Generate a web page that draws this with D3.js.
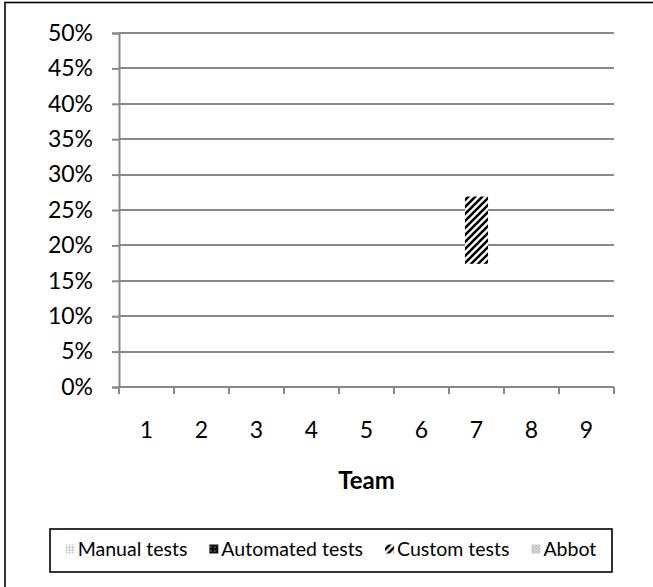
<!DOCTYPE html>
<html>
<head>
<meta charset="utf-8">
<script src="https://cdn.jsdelivr.net/npm/d3@7"></script>
<style>
  html, body { margin: 0; padding: 0; background: #fff; }
  svg { display: block; font-family: Lato, "Open Sans", sans-serif; }
</style>
</head>
<body>
<svg id="chart" width="653" height="587"></svg>
<script>
// Teams on the horizontal axis
const teams = [1, 2, 3, 4, 5, 6, 7, 8, 9];
// Share of tests per team, stacked in this order
const seriesNames = ["Manual tests", "Automated tests", "Custom tests", "Abbot"];
const manualTests    = [0, 0, 0, 0, 0, 0, 0.174, 0, 0];
const automatedTests = [0, 0, 0, 0, 0, 0, 0, 0, 0];
const customTests    = [0, 0, 0, 0, 0, 0, 0.095, 0, 0];
const abbotTests     = [0, 0, 0, 0, 0, 0, 0, 0, 0];
const yTicks = [0, 0.05, 0.10, 0.15, 0.20, 0.25, 0.30, 0.35, 0.40, 0.45, 0.50];
const xTitle = "Team";

const svg = d3.select("#chart");
const plot = { left: 119, right: 614, top: 33, bottom: 387 };
const grid = "#888888";
const axisFont = 23;

// Fill patterns for each series
const defs = svg.append("defs");
const pManual = defs.append("pattern").attr("id", "p-manual")
  .attr("patternUnits", "userSpaceOnUse").attr("width", 3).attr("height", 3);
pManual.append("rect").attr("width", 3).attr("height", 3).attr("fill", "#fff");
pManual.append("rect").attr("width", 1.5).attr("height", 1.5).attr("fill", "#8a8a8a");

const pAuto = defs.append("pattern").attr("id", "p-auto")
  .attr("patternUnits", "userSpaceOnUse").attr("width", 4).attr("height", 4);
pAuto.append("rect").attr("width", 4).attr("height", 4).attr("fill", "#111");
pAuto.append("rect").attr("x", 1).attr("y", 1).attr("width", 1).attr("height", 1).attr("fill", "#ccc");

const pCustom = defs.append("pattern").attr("id", "p-custom")
  .attr("patternUnits", "userSpaceOnUse").attr("width", 7).attr("height", 7);
pCustom.append("rect").attr("width", 7).attr("height", 7).attr("fill", "#fff");
pCustom.append("path").attr("d", "M-2,2 L2,-2 M0,7 L7,0 M5,9 L9,5")
  .attr("stroke", "#000").attr("stroke-width", 2.6);

const pAbbot = defs.append("pattern").attr("id", "p-abbot")
  .attr("patternUnits", "userSpaceOnUse").attr("width", 3).attr("height", 3);
pAbbot.append("rect").attr("width", 3).attr("height", 3).attr("fill", "#fff");
pAbbot.append("path").attr("d", "M0,0 L3,3").attr("stroke", "#666").attr("stroke-width", 1);

// Lowest segment is left unfilled, so only the custom-test band shows
const seriesFill = {
  "Manual tests": "none",
  "Automated tests": "url(#p-auto)",
  "Custom tests": "url(#p-custom)",
  "Abbot": "url(#p-abbot)"
};
const legendFill = {
  "Manual tests": "url(#p-manual)",
  "Automated tests": "url(#p-auto)",
  "Custom tests": "url(#p-custom)",
  "Abbot": "url(#p-abbot)"
};

// Outer frame
svg.append("rect").attr("x", 5).attr("y", 2.5).attr("width", 700).attr("height", 700)
  .attr("fill", "none").attr("stroke", "#000").attr("stroke-width", 1.6);

const y = d3.scaleLinear().domain([0, 0.5]).range([plot.bottom, plot.top]);
const x = d3.scaleBand().domain(teams).range([plot.left, plot.right]).padding(0);
const barW = x.bandwidth() * 0.42;

// Horizontal gridlines
svg.append("g").selectAll("line").data(yTicks.slice(1)).join("line")
  .attr("x1", plot.left).attr("x2", plot.right)
  .attr("y1", d => Math.round(y(d))).attr("y2", d => Math.round(y(d)))
  .attr("stroke", grid).attr("stroke-width", 2);

// Stacked bars
const rows = teams.map((t, i) => ({
  team: t,
  "Manual tests": manualTests[i],
  "Automated tests": automatedTests[i],
  "Custom tests": customTests[i],
  "Abbot": abbotTests[i]
}));
const stacked = d3.stack().keys(seriesNames)(rows);
svg.append("g").selectAll("g").data(stacked).join("g")
  .attr("fill", s => seriesFill[s.key])
  .selectAll("rect").data(s => s.filter(d => d[1] > d[0])).join("rect")
  .attr("x", d => x(d.data.team) + (x.bandwidth() - barW) / 2)
  .attr("width", barW)
  .attr("y", d => y(d[1]))
  .attr("height", d => y(d[0]) - y(d[1]));

// Y axis
const yAxis = svg.append("g").attr("transform", `translate(${plot.left},0)`)
  .call(d3.axisLeft(y).tickValues(yTicks).tickFormat(d3.format(".0%")).tickSize(7).tickPadding(19));
yAxis.select(".domain").attr("stroke", grid).attr("stroke-width", 2);
yAxis.selectAll(".tick line").attr("stroke", grid).attr("stroke-width", 2);
yAxis.selectAll(".tick text").attr("font-size", axisFont).attr("fill", "#000")
  .attr("font-family", "Lato, sans-serif");

// X axis: line, boundary ticks, centred labels
svg.append("line").attr("x1", plot.left).attr("x2", plot.right)
  .attr("y1", plot.bottom).attr("y2", plot.bottom)
  .attr("stroke", grid).attr("stroke-width", 2);
const bounds = teams.map(t => x(t)).concat([plot.right]);
svg.append("g").selectAll("line").data(bounds).join("line")
  .attr("x1", d => d).attr("x2", d => d)
  .attr("y1", plot.bottom).attr("y2", plot.bottom + 7)
  .attr("stroke", grid).attr("stroke-width", 2);
const xAxis = svg.append("g").attr("transform", `translate(0,${plot.bottom})`)
  .call(d3.axisBottom(x).tickSize(0).tickPadding(35));
xAxis.select(".domain").remove();
xAxis.selectAll(".tick text").attr("font-size", axisFont).attr("fill", "#000")
  .attr("font-family", "Lato, sans-serif");

// Axis title
svg.append("text").attr("x", (plot.left + plot.right) / 2).attr("y", 481)
  .attr("dy", "0.35em").attr("text-anchor", "middle")
  .attr("font-size", 24).attr("font-weight", "bold")
  .text(xTitle);

// Legend
const legend = { x: 50, y: 529, w: 562, h: 43 };
svg.append("rect").attr("x", legend.x).attr("y", legend.y)
  .attr("width", legend.w).attr("height", legend.h)
  .attr("fill", "#fff").attr("stroke", "#000").attr("stroke-width", 1.6);
const lg = svg.append("g");
const items = lg.selectAll("g").data(seriesNames).join("g");
items.append("rect").attr("width", 9).attr("height", 9).attr("y", -5)
  .attr("fill", d => legendFill[d]);
items.append("text").attr("x", 12).attr("y", 0).attr("dy", "0.35em")
  .attr("font-size", 19.5).text(d => d);
let cursor = 0;
const gap = 22;
items.each(function () {
  const w = this.getBBox().width;
  d3.select(this).attr("transform", `translate(${cursor},${legend.y + legend.h / 2 - 1})`);
  cursor += w + gap;
});
const total = cursor - gap;
lg.attr("transform", `translate(${legend.x + (legend.w - total) / 2},0)`);
</script>
</body>
</html>
